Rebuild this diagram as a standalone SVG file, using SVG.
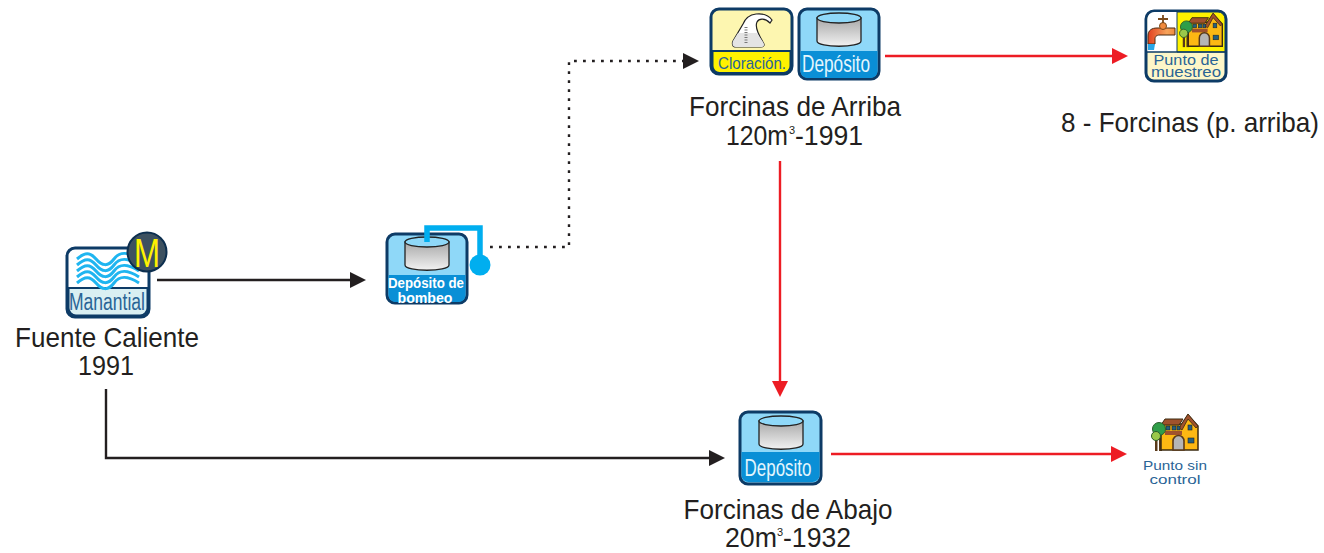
<svg xmlns="http://www.w3.org/2000/svg" width="1324" height="553" viewBox="0 0 1324 553">
<style>
text{font-family:"Liberation Sans",Arial,sans-serif}
.lbl{font-size:28px;fill:#231f20;text-anchor:middle}
.sup{font-size:11px;fill:#231f20}
.box{stroke:#0d3b66;stroke-width:3}
.conn{fill:none;stroke-width:2.400}
.k{stroke:#231f20}.r{stroke:#ed1c24}
.cap{text-anchor:middle}
</style>
<defs>
<marker id="ak" markerUnits="userSpaceOnUse" markerWidth="16" markerHeight="16" refX="1" refY="8" orient="auto"><path d="M0 0L16 8L0 16Z" fill="#231f20"/></marker>
<marker id="ar" markerUnits="userSpaceOnUse" markerWidth="16" markerHeight="16" refX="1" refY="8" orient="auto"><path d="M0 0L16 8L0 16Z" fill="#ed1c24"/></marker>
<linearGradient id="g" x1="0" y1="0" x2="0" y2="1"><stop offset="0" stop-color="#a8a8a8"/><stop offset="1" stop-color="#f2f2f2"/></linearGradient>
<linearGradient id="p" x1="0" y1="0" x2="1" y2="0"><stop offset="0" stop-color="#e2401f"/><stop offset=".7" stop-color="#f6a35a"/><stop offset="1" stop-color="#f08a3c"/></linearGradient>
<g id="tank"><path d="M0 5V28C0 35 44 35 44 28V5Z" fill="url(#g)" stroke="#222" stroke-width="1.300"/><ellipse cx="22" cy="5" rx="22" ry="5" fill="#8fd8f8" stroke="#222" stroke-width="1.300"/></g>
<g id="house">
<rect x="3" y="22" width="2.500" height="14" fill="#5a3a1a"/><rect x="7" y="16" width="3" height="20" fill="#5a3a1a"/>
<path d="M9 9H30L36 0L46 11V35H9Z" fill="#fdb813" stroke="#3a2a10" stroke-width="1.500"/>
<path d="M9 10L13 4H31L27 10Z" fill="#a0522d" stroke="#3a2a10"/><path d="M27 13L36 -1L46 11L44 13L36 4L30 15Z" fill="#a0522d" stroke="#3a2a10" stroke-width=".8"/>
<path d="M13 16H30V20H13Z" fill="#a0522d"/>
<g fill="#25607f" stroke="#222" stroke-width=".6"><rect x="14" y="11" width="4" height="4"/><rect x="20" y="11" width="4" height="4"/><rect x="25" y="11" width="3" height="4"/><rect x="36" y="10" width="4" height="5"/><rect x="36" y="23" width="6" height="5"/></g>
<path d="M21 35V26A5.500 5.500 0 0 1 32 26V35Z" fill="#b5b5b5" stroke="#5a3a1a" stroke-width="1.600"/>
<circle cx="7" cy="14" r="6.500" fill="#2f9e49" stroke="#2b5b2b"/><circle cx="4" cy="21" r="4.500" fill="#9ac84a" stroke="#2b5b2b"/>
</g>
</defs>

<g id="connectors">
<path class="conn k" d="M157 280H351" marker-end="url(#ak)"/>
<path class="conn k" d="M106 389V458H710" marker-end="url(#ak)"/>
<path class="conn k" d="M490 247H569V61H684" stroke-width="2.800" stroke-dasharray="2.800 6.200" marker-end="url(#ak)"/>
<path class="conn r" d="M885 56H1113" marker-end="url(#ar)"/>
<path class="conn r" d="M780 161V382" marker-end="url(#ar)"/>
<path class="conn r" d="M831 454H1112" marker-end="url(#ar)"/>
</g>

<g id="manantial">
<rect class="box" x="67" y="248" width="82" height="69" rx="8" fill="#fff"/>
<path d="M68.500 288H147.500V308a7.500 7.500 0 0 1-7.500 7.500H76a7.500 7.500 0 0 1-7.500-7.500Z" fill="#d9eff2" stroke="#0d3b66" stroke-width="2"/>
<g fill="none" stroke="#1fb5f0" stroke-width="3">
<path d="M77 259C85 252 90 252 96 259S108 267 114 259S128 252 139 259"/>
<path d="M77 265C85 258 90 258 96 265S108 273 114 265S128 258 139 265"/>
<path d="M77 271C85 264 90 264 96 271S108 279 114 271S128 264 139 271"/>
<path d="M77 277C85 270 90 270 96 277S108 285 114 277S128 270 139 277"/>
<path d="M77 283C85 276 90 276 96 283S108 291 114 283S128 276 139 283"/>
</g>
<text class="cap" x="107" y="310" font-size="23" fill="#2a6496" textLength="76" lengthAdjust="spacingAndGlyphs">Manantial</text>
<circle cx="147" cy="252" r="19.500" fill="#3d5160" stroke="#0d2f4f" stroke-width="2"/>
<text class="cap" x="147" y="267" font-size="40" fill="#fff200" textLength="26" lengthAdjust="spacingAndGlyphs">M</text>
<text class="lbl" x="107" y="347" textLength="184" lengthAdjust="spacingAndGlyphs">Fuente Caliente</text>
<text class="lbl" x="106" y="375" textLength="56" lengthAdjust="spacingAndGlyphs">1991</text>
</g>

<g id="deposito-bombeo">
<rect class="box" x="387" y="234" width="80" height="69" rx="8" fill="#8fd8f8"/>
<path d="M388.500 275H465.500V295a7 7 0 0 1-7 7H395.500a7 7 0 0 1-7-7Z" fill="#0a8fd6"/>
<use href="#tank" x="405" y="237"/>
<path d="M427 242V228H480V262" fill="none" stroke="#00aeef" stroke-width="5.500"/>
<circle cx="480" cy="265" r="10.500" fill="#00aeef"/>
<g fill="#fff" font-weight="bold" font-size="14.500"><text class="cap" x="426" y="288" textLength="76" lengthAdjust="spacingAndGlyphs">Depósito de</text>
<text class="cap" x="425" y="303" textLength="55" lengthAdjust="spacingAndGlyphs">bombeo</text></g>
</g>

<g id="cloracion">
<rect class="box" x="711" y="9" width="81" height="65" rx="8" fill="#fdf6b0"/>
<path d="M712.500 51H790.500V66a7 7 0 0 1-7 7H719.500a7 7 0 0 1-7-7Z" fill="#fff200" stroke="#0d3b66" stroke-width="2"/>
<path d="M736 47C732 47 732 43 733 41L743 24C745 19 748 15 756 14C764 13 769 16 772 20L770 23C765 18 759 18 757 22C755 26 758 34 763 42C765 45 764 47 761 47Z" fill="#fff" stroke="#222" stroke-width="1.200"/>
<path d="M738 33H757L763 42C765 45 764 47 761 47H736C732 47 732 43 733 41Z" fill="#e4e4e4"/>
<path d="M746 27V44" stroke="#777" stroke-width="3" stroke-dasharray="1 1.500"/>
<text class="cap" x="752" y="69" font-size="17" fill="#2a6496" textLength="68" lengthAdjust="spacingAndGlyphs">Cloración.</text>
</g>

<g id="deposito-arriba">
<rect class="box" x="799" y="9" width="80" height="70" rx="8" fill="#8fd8f8"/>
<path d="M800.500 51H877.500V71a7 7 0 0 1-7 7H807.500a7 7 0 0 1-7-7Z" fill="#0a8fd6"/>
<use href="#tank" x="817" y="13"/>
<text class="cap" x="836" y="72" font-size="24" fill="#e4f6fd" textLength="68" lengthAdjust="spacingAndGlyphs">Depósito</text>
<text class="lbl" x="795" y="116" textLength="212" lengthAdjust="spacingAndGlyphs">Forcinas de Arriba</text>
<text class="lbl" x="757" y="145" textLength="62" lengthAdjust="spacingAndGlyphs">120m</text>
<text class="sup" x="789" y="134">3</text>
<text class="lbl" x="829" y="145" textLength="68" lengthAdjust="spacingAndGlyphs">-1991</text>
</g>

<g id="punto-muestreo">
<rect class="box" x="1146" y="11" width="80" height="70" rx="8" fill="#fdf6c8"/>
<path d="M1147.500 52V19a7 7 0 0 1 7-7H1177V52Z" fill="#fff"/>
<path d="M1177 52V12H1218a7 7 0 0 1 7 7V52Z" fill="#fff200" stroke="#0d3b66" stroke-width="1"/>
<path d="M1147 52H1225" stroke="#0d3b66" stroke-width="1.500"/>
<path d="M1148 44V36C1148 30 1152 28 1157 28H1175V35H1160C1156 35 1155 37 1155 39V44Z" fill="url(#p)" stroke="#4a2a10"/>
<path d="M1148 44H1155L1154 50H1148Z" fill="#29a6e6"/>
<circle cx="1163" cy="26" r="3.500" fill="#f08a3c" stroke="#7a4a1a"/>
<path d="M1163 23V15M1158 19H1168" stroke="#7a4a1a" stroke-width="1.800" fill="none"/>
<use href="#house" x="1180" y="14" transform="translate(1180 14) scale(.92) translate(-1180 -14)"/>
<g fill="#2a6496" font-size="14.500"><text class="cap" x="1186" y="65" textLength="65" lengthAdjust="spacingAndGlyphs">Punto de</text>
<text class="cap" x="1186" y="77" textLength="70" lengthAdjust="spacingAndGlyphs">muestreo</text></g>
</g>
<text id="label-8" x="1190" y="132" font-size="28" fill="#231f20" text-anchor="middle" textLength="258" lengthAdjust="spacingAndGlyphs">8 - Forcinas (p. arriba)</text>

<g id="deposito-abajo">
<rect class="box" x="740" y="412" width="81" height="72" rx="8" fill="#8fd8f8"/>
<path d="M741.500 452H819.500V475a7 7 0 0 1-7 7H748.500a7 7 0 0 1-7-7Z" fill="#0a8fd6"/>
<use href="#tank" x="759" y="416"/>
<text class="cap" x="778" y="476" font-size="24" fill="#e4f6fd" textLength="67" lengthAdjust="spacingAndGlyphs">Depósito</text>
<text class="lbl" x="788" y="519" textLength="209" lengthAdjust="spacingAndGlyphs">Forcinas de Abajo</text>
<text class="lbl" x="751" y="547" textLength="52" lengthAdjust="spacingAndGlyphs">20m</text>
<text class="sup" x="777" y="536">3</text>
<text class="lbl" x="817" y="547" textLength="68" lengthAdjust="spacingAndGlyphs">-1932</text>
</g>

<g id="punto-sin-control">
<use href="#house" x="1152" y="415"/>
<g fill="#2a6496" font-size="13.500"><text class="cap" x="1175" y="470" textLength="64" lengthAdjust="spacingAndGlyphs">Punto sin</text>
<text class="cap" x="1175" y="484" textLength="51" lengthAdjust="spacingAndGlyphs">control</text></g>
</g>
</svg>
